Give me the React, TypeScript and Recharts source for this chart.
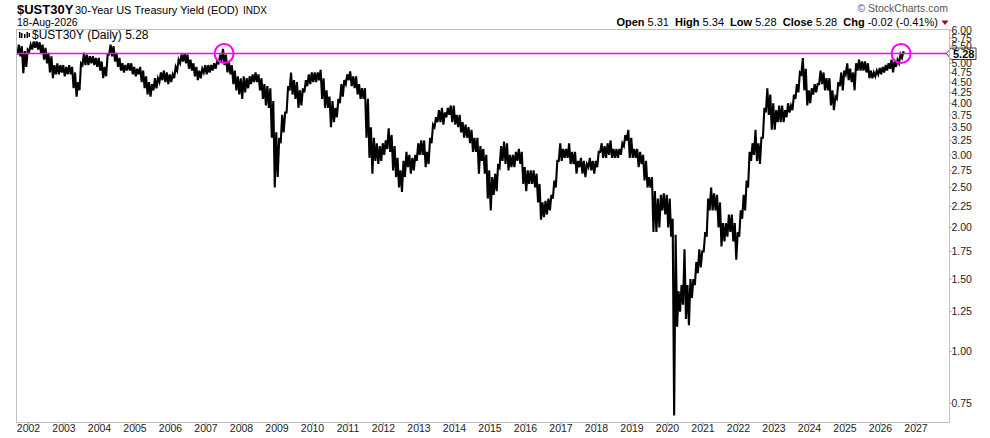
import React from 'react';
import { LineChart, Line, XAxis, YAxis, ReferenceLine, ReferenceDot } from 'recharts';

// monthly lows / highs of the 30Y yield, first month = Sep 2001
const startYear = 2001 + 8 / 12;

const monthlyLow = [
  5.25, 5.2, 4.73,
  4.9, 5.35, 5.4, 5.45, 5.4, 5.3, 5.1, 5.0, 4.75, 4.6, 4.7, 4.7,
  4.75, 4.65, 4.7, 4.7, 4.35, 4.15, 4.3, 4.95, 4.95, 4.95, 5.0, 4.95,
  4.9, 4.8, 4.6, 4.65, 5.25, 5.2, 5.05, 4.9, 4.8, 4.75, 4.8, 4.8,
  4.7, 4.65, 4.7, 4.5, 4.35, 4.2, 4.15, 4.3, 4.35, 4.5, 4.55, 4.5,
  4.45, 4.5, 4.6, 4.8, 5.0, 5.05, 5.0, 4.85, 4.8, 4.65, 4.55, 4.6,
  4.75, 4.7, 4.75, 4.8, 4.85, 5.0, 5.1, 4.95, 4.75, 4.7, 4.45, 4.3,
  4.2, 4.1, 4.25, 4.35, 4.45, 4.5, 4.5, 4.3, 4.1, 3.95, 3.9, 3.3,
  2.5, 2.65, 3.2, 3.4, 3.8, 4.3, 4.2, 4.1, 3.9, 3.95, 4.25, 4.4,
  4.45, 4.5, 4.5, 4.55, 4.1, 3.9, 3.9, 3.5, 3.6, 3.7, 4.0, 4.15,
  4.45, 4.55, 4.4, 4.35, 4.2, 4.1, 4.1, 3.3, 2.95, 2.7, 2.9, 2.85,
  2.9, 3.0, 3.1, 3.05, 2.75, 2.65, 2.5, 2.44, 2.65, 2.8, 2.7, 2.75,
  2.9, 3.0, 3.0, 2.8, 2.85, 3.2, 3.5, 3.6, 3.6, 3.55, 3.7, 3.75,
  3.6, 3.55, 3.5, 3.4, 3.3, 3.3, 3.2, 3.05, 3.05, 2.7, 2.9, 2.7,
  2.35, 2.2, 2.4, 2.45, 2.8, 2.9, 2.85, 2.75, 2.8, 2.8, 2.9, 2.85,
  2.55, 2.45, 2.55, 2.55, 2.5, 2.3, 2.09, 2.12, 2.15, 2.2, 2.35, 2.5, 2.9,
  2.9, 2.95, 2.95, 2.85, 2.85, 2.7, 2.8, 2.7, 2.65, 2.8, 2.75, 2.7,
  2.8, 3.05, 2.95, 2.95, 3.0, 2.95, 2.95, 2.95, 3.0, 3.15, 3.25, 2.95,
  2.95, 2.95, 2.8, 2.85, 2.6, 2.5, 2.5, 1.95, 1.95, 2.0, 2.2, 2.15,
  2.0, 1.9, 0.7, 1.15, 1.25, 1.3, 1.2, 1.16, 1.35, 1.45, 1.55, 1.6,
  1.75, 1.9, 2.2, 2.2, 2.2, 2.0, 1.8, 1.85, 1.9, 1.95, 1.85, 1.67,
  1.9, 2.1, 2.2, 2.5, 2.9, 3.0, 2.9, 2.85, 3.3, 3.8, 3.75, 3.45,
  3.45, 3.6, 3.6, 3.6, 3.7, 3.8, 3.85, 4.1, 4.25, 4.7, 4.3, 3.95,
  4.0, 4.2, 4.25, 4.45, 4.45, 4.3, 4.3, 3.95, 3.85, 4.1, 4.4, 4.3,
  4.7, 4.55, 4.5, 4.3, 4.8, 4.8, 4.8, 4.75, 4.6, 4.6, 4.65, 4.7,
  4.7, 4.75, 4.8, 4.85, 4.75, 4.9, 5.0, 5.15,
];

const monthlyHigh = [
  5.55, 5.5, 5.35,
  5.4, 5.55, 5.65, 5.65, 5.62, 5.55, 5.45, 5.3, 5.2, 4.95, 5.0, 4.95,
  4.95, 4.9, 4.95, 4.9, 4.75, 4.5, 5.0, 5.3, 5.25, 5.2, 5.2, 5.15,
  5.15, 5.05, 4.9, 5.25, 5.55, 5.5, 5.3, 5.15, 5.0, 4.95, 5.0, 5.0,
  4.9, 4.85, 4.9, 4.8, 4.65, 4.5, 4.45, 4.6, 4.6, 4.75, 4.8, 4.75,
  4.7, 4.7, 4.9, 5.1, 5.25, 5.28, 5.25, 5.1, 5.0, 4.9, 4.8, 4.85,
  4.95, 4.95, 4.95, 5.0, 5.05, 5.2, 5.42, 5.25, 5.05, 4.95, 4.8, 4.65,
  4.6, 4.65, 4.6, 4.65, 4.7, 4.75, 4.7, 4.6, 4.45, 4.4, 4.35, 4.05,
  3.4, 3.3, 3.75, 3.8, 4.4, 4.75, 4.55, 4.5, 4.3, 4.35, 4.55, 4.7,
  4.75, 4.75, 4.75, 4.82, 4.6, 4.3, 4.15, 4.05, 3.9, 4.1, 4.45, 4.55,
  4.7, 4.78, 4.65, 4.65, 4.45, 4.35, 4.35, 4.1, 3.5, 3.3, 3.2, 3.15,
  3.2, 3.25, 3.48, 3.35, 3.15, 2.95, 2.75, 2.9, 3.05, 3.0, 2.95, 3.0,
  3.2, 3.25, 3.25, 3.05, 3.3, 3.55, 3.7, 3.85, 3.9, 3.8, 3.9, 3.95,
  3.95, 3.75, 3.75, 3.6, 3.55, 3.5, 3.45, 3.3, 3.3, 3.15, 3.1, 3.0,
  2.75, 2.65, 2.7, 2.85, 3.15, 3.23, 3.2, 3.0, 3.0, 3.05, 3.1, 3.05,
  2.8, 2.75, 2.75, 2.75, 2.7, 2.55, 2.3, 2.32, 2.35, 2.4, 2.6, 2.9, 3.2,
  3.1, 3.1, 3.2, 3.05, 3.05, 2.9, 2.95, 2.9, 2.85, 2.95, 2.9, 2.9,
  3.05, 3.2, 3.15, 3.2, 3.25, 3.1, 3.1, 3.1, 3.2, 3.35, 3.45, 3.3,
  3.1, 3.1, 3.05, 3.0, 2.9, 2.65, 2.65, 2.45, 2.35, 2.4, 2.42, 2.4,
  2.35, 2.1, 1.92, 1.4, 1.45, 1.77, 1.45, 1.5, 1.5, 1.65, 1.77, 1.75,
  1.95, 2.35, 2.5, 2.42, 2.4, 2.3, 2.05, 2.05, 2.15, 2.15, 2.05, 1.95,
  2.2, 2.4, 2.6, 3.05, 3.2, 3.45, 3.2, 3.3, 3.9, 4.35, 4.2, 4.0,
  3.85, 3.95, 3.95, 3.85, 4.0, 3.95, 4.2, 4.45, 4.75, 5.15, 4.85, 4.3,
  4.35, 4.45, 4.45, 4.8, 4.75, 4.6, 4.6, 4.3, 4.15, 4.5, 4.75, 4.8,
  5.0, 4.85, 4.75, 5.0, 5.1, 5.05, 5.05, 5.0, 4.8, 4.75, 4.8, 4.87,
  4.9, 4.95, 5.0, 5.1, 5.05, 5.1, 5.25, 5.34,
];

const lastDate = 2026.655;
const lastClose = 5.28;
const circleDates = [2007.51, 2026.58];

const yearTicks = [
  2002, 2003, 2004, 2005, 2006, 2007, 2008, 2009, 2010, 2011, 2012, 2013, 2014,
  2015, 2016, 2017, 2018, 2019, 2020, 2021, 2022, 2023, 2024, 2025, 2026, 2027,
];
const yTicks = [
  0.75, 1, 1.25, 1.5, 1.75, 2, 2.25, 2.5, 2.75, 3, 3.25, 3.5, 3.75, 4, 4.25,
  4.5, 4.75, 5, 5.5, 5.75, 6,
];

const series = monthlyLow.flatMap((lo, i) => {
  const t = startYear + i / 12;
  return [
    { t: t + 1 / 48, v: lo },
    { t: t + 3 / 48, v: monthlyHigh[i] },
  ];
});
series.push({ t: lastDate, v: lastClose });

const MAGENTA = '#ff00ff';
const FONT = '"Liberation Sans", Arial, sans-serif';

function PriceTag(props: any) {
  const { viewBox } = props;
  if (!viewBox) return null;
  const x = viewBox.x + viewBox.width;
  const y = viewBox.y;
  return (
    <g>
      <polygon
        points={`${x - 3},${y} ${x + 1.5},${y - 5.5} ${x + 26.5},${y - 5.5} ${x + 26.5},${y + 6} ${x + 1.5},${y + 6}`}
        fill="#fff"
        stroke="#444"
        strokeWidth={1}
      />
      <text x={x + 3.5} y={y + 4} fontSize={11} fontWeight="bold" fill="#000" fontFamily={FONT}>
        {lastClose.toFixed(2)}
      </text>
    </g>
  );
}

const MagentaLine = (p: any) => (
  <line x1={p.x1} y1={p.y1} x2={p.x2} y2={p.y2} stroke={MAGENTA} strokeWidth={1.3} />
);

const nb = '\u00a0';

export default function App() {
  return (
    <div style={{ position: 'relative', width: 990, height: 438, background: '#fff', fontFamily: FONT }}>
      <style>{'body{margin:0}'}</style>
      <LineChart
        width={990}
        height={438}
        data={series}
        margin={{ top: 29, right: 0, bottom: 0, left: 16.5 }}
      >
        <XAxis
          type="number"
          dataKey="t"
          domain={[2001.662, 2027.944]}
          ticks={yearTicks}
          interval={0}
          allowDataOverflow
          height={16}
          axisLine={false}
          tickSize={3}
          tickMargin={0}
          tickLine={{ stroke: '#999' }}
          tick={{ fontSize: 10.5, fill: '#222', fontFamily: FONT }}
        />
        <YAxis
          orientation="right"
          type="number"
          scale="log"
          domain={[0.6755, 6.054]}
          allowDataOverflow
          ticks={yTicks}
          interval={0}
          width={40.5}
          axisLine={false}
          tickSize={2}
          tickMargin={0}
          tickLine={{ stroke: '#999' }}
          tick={{ fontSize: 10.5, fill: '#222', fontFamily: FONT }}
          tickFormatter={(v: number) => v.toFixed(2)}
        />
        <Line
          type="linear"
          dataKey="v"
          stroke="#000"
          strokeWidth={2.1}
          strokeLinejoin="miter"
          dot={false}
          isAnimationActive={false}
        />
        <ReferenceLine
          y={lastClose}
          stroke={MAGENTA}
          strokeWidth={1.3}
          shape={MagentaLine}
          label={<PriceTag />}
        />
        {circleDates.map((d) => (
          <ReferenceDot
            key={d}
            x={d}
            y={lastClose}
            r={9.5}
            fill="none"
            stroke={MAGENTA}
            strokeWidth={2}
          />
        ))}
      </LineChart>
      <svg
        width={990}
        height={438}
        style={{ position: 'absolute', left: 0, top: 0, pointerEvents: 'none' }}
      >
        <rect x={16.5} y={29.5} width={933} height={393} fill="none" stroke="#c0c0c0" />
        <text x={17} y={14} fontSize={13} fontWeight="bold" fill="#000" fontFamily={FONT}>
          $UST30Y
        </text>
        <text x={75} y={13.5} fontSize={11} fill="#000" fontFamily={FONT}>
          30-Year US Treasury Yield (EOD)
        </text>
        <text x={243} y={13.5} fontSize={10} fill="#000" fontFamily={FONT}>
          INDX
        </text>
        <text x={17} y={25.5} fontSize={10.5} fill="#000" fontFamily={FONT}>
          18-Aug-2026
        </text>
        <text x={948} y={12} fontSize={10.5} fill="#555" textAnchor="end" fontFamily={FONT}>
          © StockCharts.com
        </text>
        <text x={938} y={25.5} fontSize={11} fill="#000" textAnchor="end" fontFamily={FONT}>
          <tspan fontWeight="bold">Open</tspan>
          <tspan>{`${nb}5.31${nb}${nb}`}</tspan>
          <tspan fontWeight="bold">High</tspan>
          <tspan>{`${nb}5.34${nb}${nb}`}</tspan>
          <tspan fontWeight="bold">Low</tspan>
          <tspan>{`${nb}5.28${nb}${nb}`}</tspan>
          <tspan fontWeight="bold">Close</tspan>
          <tspan>{`${nb}5.28${nb}${nb}`}</tspan>
          <tspan fontWeight="bold">Chg</tspan>
          <tspan>{`${nb}-0.02${nb}(-0.41%)`}</tspan>
        </text>
        <polygon points="941.5,20.5 948.5,20.5 945,25" fill="#8b0a2a" />
        <g fill="#000">
          <rect x={19} y={32} width={1.5} height={6} />
          <rect x={21} y={33} width={1.5} height={5} />
          <rect x={24} y={34} width={1.5} height={4} />
          <rect x={26.5} y={32} width={1.5} height={6} />
          <rect x={28.5} y={33} width={1.5} height={4} />
        </g>
        <text x={32} y={39} fontSize={12} fill="#000" fontFamily={FONT}>
          $UST30Y (Daily) 5.28
        </text>
      </svg>
    </div>
  );
}
